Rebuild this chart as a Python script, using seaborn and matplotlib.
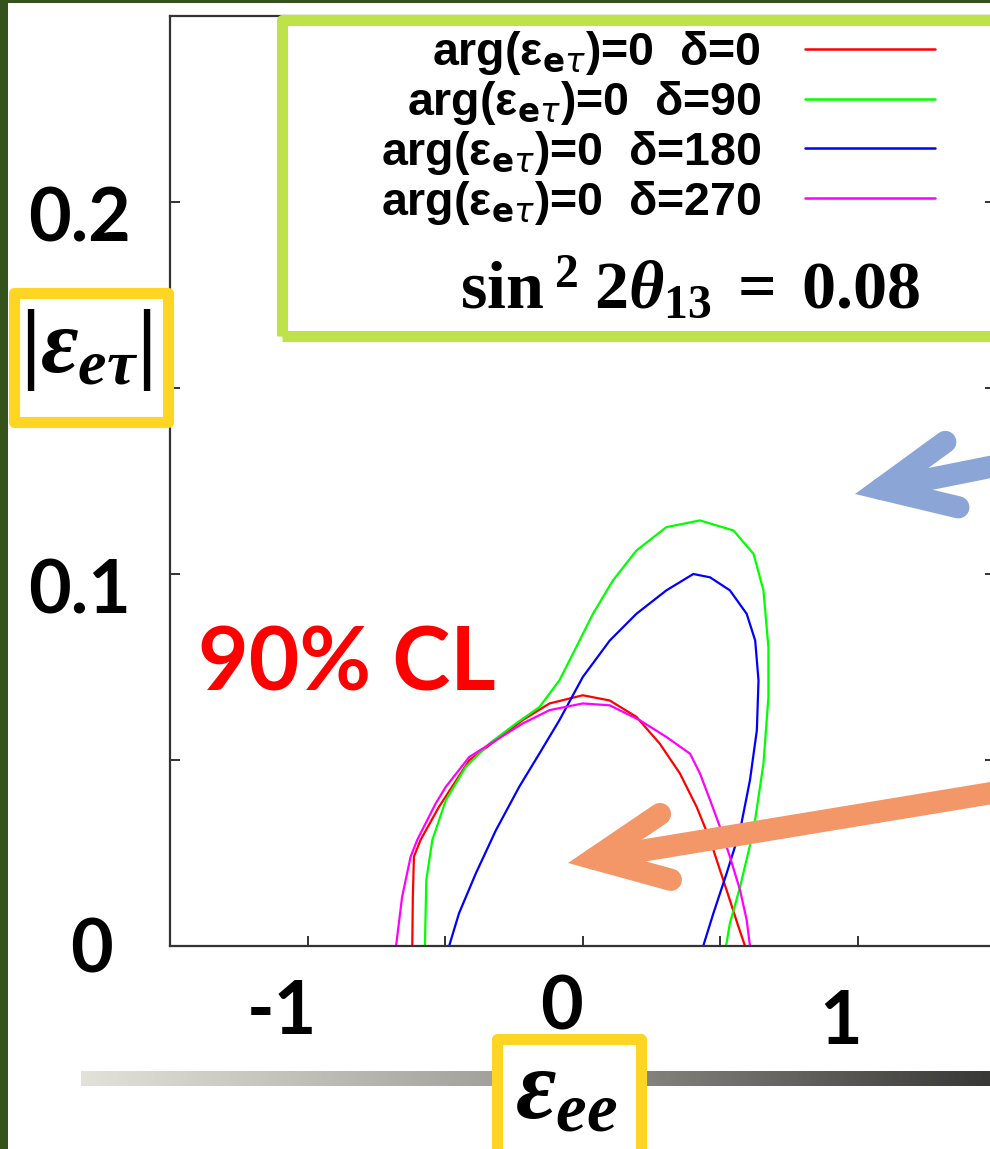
import numpy as np
import pandas as pd
import matplotlib
matplotlib.use('Agg')
import matplotlib.pyplot as plt
import seaborn as sns
from matplotlib.patches import Rectangle, FancyArrowPatch, ArrowStyle
from matplotlib.colors import LinearSegmentedColormap

W, H = 990, 1149

# contours: x = eps_ee, y = |eps_etau|
red_x = [-0.619, -0.617, -0.613, -0.589, -0.522, -0.412, -0.315, -0.218, -0.120, 0.001,
         0.099, 0.196, 0.281, 0.354, 0.415, 0.464, 0.500, 0.536, 0.567, 0.591]
red_y = [0.0, 0.0132, 0.0240, 0.0285, 0.0374, 0.0499, 0.0553, 0.0607, 0.0652, 0.0674,
         0.0660, 0.0616, 0.0544, 0.0464, 0.0374, 0.0285, 0.0204, 0.0123, 0.0052, 0.0]

green_x = [-0.573, -0.568, -0.546, -0.497, -0.425, -0.339, -0.242, -0.157, -0.084, -0.023,
           0.038, 0.111, 0.196, 0.305, 0.427, 0.549, 0.622, 0.658, 0.676, 0.676,
           0.658, 0.622, 0.573, 0.536, 0.522]
green_y = [0.0, 0.0177, 0.0285, 0.0392, 0.0481, 0.0544, 0.0598, 0.0642, 0.0714, 0.0803,
           0.0893, 0.0983, 0.1063, 0.1126, 0.1144, 0.1117, 0.1054, 0.0956, 0.0803, 0.0669,
           0.0490, 0.0311, 0.0159, 0.0061, 0.0]

blue_x = [-0.485, -0.449, -0.388, -0.315, -0.230, -0.157, -0.084, 0.001, 0.099, 0.196,
          0.305, 0.403, 0.464, 0.536, 0.597, 0.628, 0.640, 0.634, 0.609, 0.573,
          0.524, 0.476, 0.439]
blue_y = [0.0, 0.0088, 0.0195, 0.0311, 0.0428, 0.0517, 0.0607, 0.0723, 0.0821, 0.0893,
          0.0956, 0.1000, 0.0991, 0.0956, 0.0893, 0.0821, 0.0714, 0.0580, 0.0446, 0.0311,
          0.0195, 0.0088, 0.0]

magenta_x = [-0.678, -0.656, -0.625, -0.601, -0.534, -0.497, -0.412, -0.315, -0.218, -0.120,
             0.001, 0.099, 0.208, 0.305, 0.391, 0.427, 0.464, 0.500, 0.536, 0.573,
             0.597, 0.609]
magenta_y = [0.0, 0.0132, 0.0240, 0.0285, 0.0383, 0.0428, 0.0508, 0.0553, 0.0598, 0.0634,
             0.0652, 0.0647, 0.0607, 0.0562, 0.0517, 0.0464, 0.0392, 0.0320, 0.0240, 0.0150,
             0.0070, 0.0]

deltas = ['0', '90', '180', '270']
labels = [r'arg(ε$_{\mathbf{e}\tau}$)=0  δ=' + d for d in deltas]
colors = ['#FF0000', '#00FF00', '#0000FF', '#FF00FF']

xticks = [-1.5, -1.0, -0.5, 0.0, 0.5, 1.0, 1.5]
yticks = [0.0, 0.05, 0.10, 0.15, 0.20, 0.25]

frames = []
for lab, xs, ys in zip(labels, [red_x, green_x, blue_x, magenta_x],
                       [red_y, green_y, blue_y, magenta_y]):
    frames.append(pd.DataFrame({'x': xs, 'y': ys, 'curve': lab}))
df = pd.concat(frames, ignore_index=True)

sns.set_style('ticks')
plt.rcParams['font.family'] = ['Liberation Sans', 'DejaVu Sans']
plt.rcParams['text.color'] = 'black'
plt.rcParams['mathtext.fontset'] = 'custom'
plt.rcParams['mathtext.rm'] = 'Liberation Serif:bold'
plt.rcParams['mathtext.it'] = 'Liberation Serif:bold:italic'
plt.rcParams['mathtext.bf'] = 'Liberation Serif:bold'


def fx(px):
    return px / W


def fy(py):
    return 1 - py / H


fig = plt.figure(figsize=(W / 100, H / 100), dpi=100)
fig.patch.set_facecolor('white')

ax = fig.add_axes([fx(170), fy(946), (995 - 170) / W, (946 - 16) / H])
sns.lineplot(data=df, x='x', y='y', hue='curve', hue_order=labels, palette=colors,
             sort=False, estimator=None, linewidth=1.6, ax=ax)
ax.set_xlim(-1.5, 1.5)
ax.set_ylim(0, 0.25)
ax.set_xticks(xticks)
ax.set_yticks(yticks)
ax.set_xticklabels([])
ax.set_yticklabels([])
ax.set_xlabel('')
ax.set_ylabel('')
ax.tick_params(direction='in', length=7.5, width=1.4, color='#333333',
               top=True, right=True)
for sp in ax.spines.values():
    sp.set_visible(True)
    sp.set_color('#333333')
    sp.set_linewidth(1.6)

handles, _ = ax.get_legend_handles_labels()
ax.get_legend().remove()
leg = ax.legend(handles, labels, loc='upper right', frameon=False,
                bbox_to_anchor=(fx(935), fy(29)), bbox_transform=fig.transFigure,
                markerfirst=False, handlelength=2.8, handletextpad=0.93,
                labelspacing=0.04, borderpad=0, borderaxespad=0, labelcolor='black',
                prop={'family': 'Liberation Sans', 'weight': 'bold', 'size': 33.5})
for t in leg.get_texts():
    t.set_math_fontfamily('dejavusans')
for l in leg.get_lines():
    l.set_linewidth(1.8)

# legend box and sin^2 text
fig.add_artist(Rectangle((fx(281.5), fy(335.5)), (1010 - 281.5) / W, (335.5 - 19.5) / H,
                         transform=fig.transFigure, fill=False, edgecolor='#BEE24A',
                         linewidth=8, joinstyle='round'))
fig.text(fx(690), fy(308), r'$\mathrm{sin}^{\;2}\;2\theta_{13}\;=\;0.08$',
         fontsize=49, ha='center', va='baseline', math_fontfamily='custom')

# tick labels placed like on the slide
tick_font = dict(family='Lato', weight='bold', fontsize=53, ha='center', va='center',
                 color='black')
for txt, x, y in [('0.2', 80, 220), ('0.1', 80, 592), ('0', 91, 951)]:
    fig.text(fx(x), fy(y), txt, **tick_font)
for txt, x, y in [('-1', 282, 1012), ('0', 561, 1008), ('1', 841, 1023)]:
    fig.text(fx(x), fy(y), txt, **tick_font)

fig.text(fx(347), fy(665), '90% CL', family='Lato', weight='bold', fontsize=63,
         color='#FF0000', ha='center', va='center')

# gradient bar under the x label
gax = fig.add_axes([fx(81), fy(1086), (990 - 81) / W, 15 / H])
grad_cmap = LinearSegmentedColormap.from_list('bar', ['#E2E2DA', '#9C9A94', '#383836'])
gax.imshow(np.linspace(0, 1, 256)[None, :], aspect='auto', cmap=grad_cmap)
gax.axis('off')

# yellow label boxes
yellow = '#FFD524'
fig.add_artist(Rectangle((fx(13.5), fy(421.5)), (167.5 - 13.5) / W, (421.5 - 292.5) / H,
                         transform=fig.transFigure, facecolor='white', edgecolor=yellow,
                         linewidth=8, joinstyle='round'))
fig.add_artist(Rectangle((fx(497.5), fy(1170)), (640.5 - 497.5) / W, (1170 - 1038.5) / H,
                         transform=fig.transFigure, facecolor='white', edgecolor=yellow,
                         linewidth=8, joinstyle='round'))
fig.text(fx(86), fy(350), r'$|\varepsilon_{e\tau}|$', fontsize=66,
         ha='center', va='center', math_fontfamily='custom')
fig.text(fx(566), fy(1093), r'$\varepsilon_{ee}$', fontsize=71,
         ha='center', va='center', math_fontfamily='custom')

# arrows on the slide
for tail, tip, col in [((1010, 463), (855, 494), '#8BA6D6'),
                       ((1010, 790), (568, 863), '#F39668')]:
    arr = FancyArrowPatch((fx(tail[0]), fy(tail[1])), (fx(tip[0]), fy(tip[1])),
                          transform=fig.transFigure,
                          arrowstyle=ArrowStyle('->', head_length=52, head_width=24),
                          mutation_scale=1, shrinkA=0, shrinkB=0, color=col,
                          linewidth=16, capstyle='round', joinstyle='miter')
    fig.add_artist(arr)

# dark green slide border
fig.add_artist(Rectangle((0, 0), fx(8), 1, transform=fig.transFigure,
                         facecolor='#35521A', edgecolor='none'))
fig.add_artist(Rectangle((0, fy(2.5)), 1, 2.5 / H, transform=fig.transFigure,
                         facecolor='#35521A', edgecolor='none'))

fig.savefig('out.png', dpi=100)
